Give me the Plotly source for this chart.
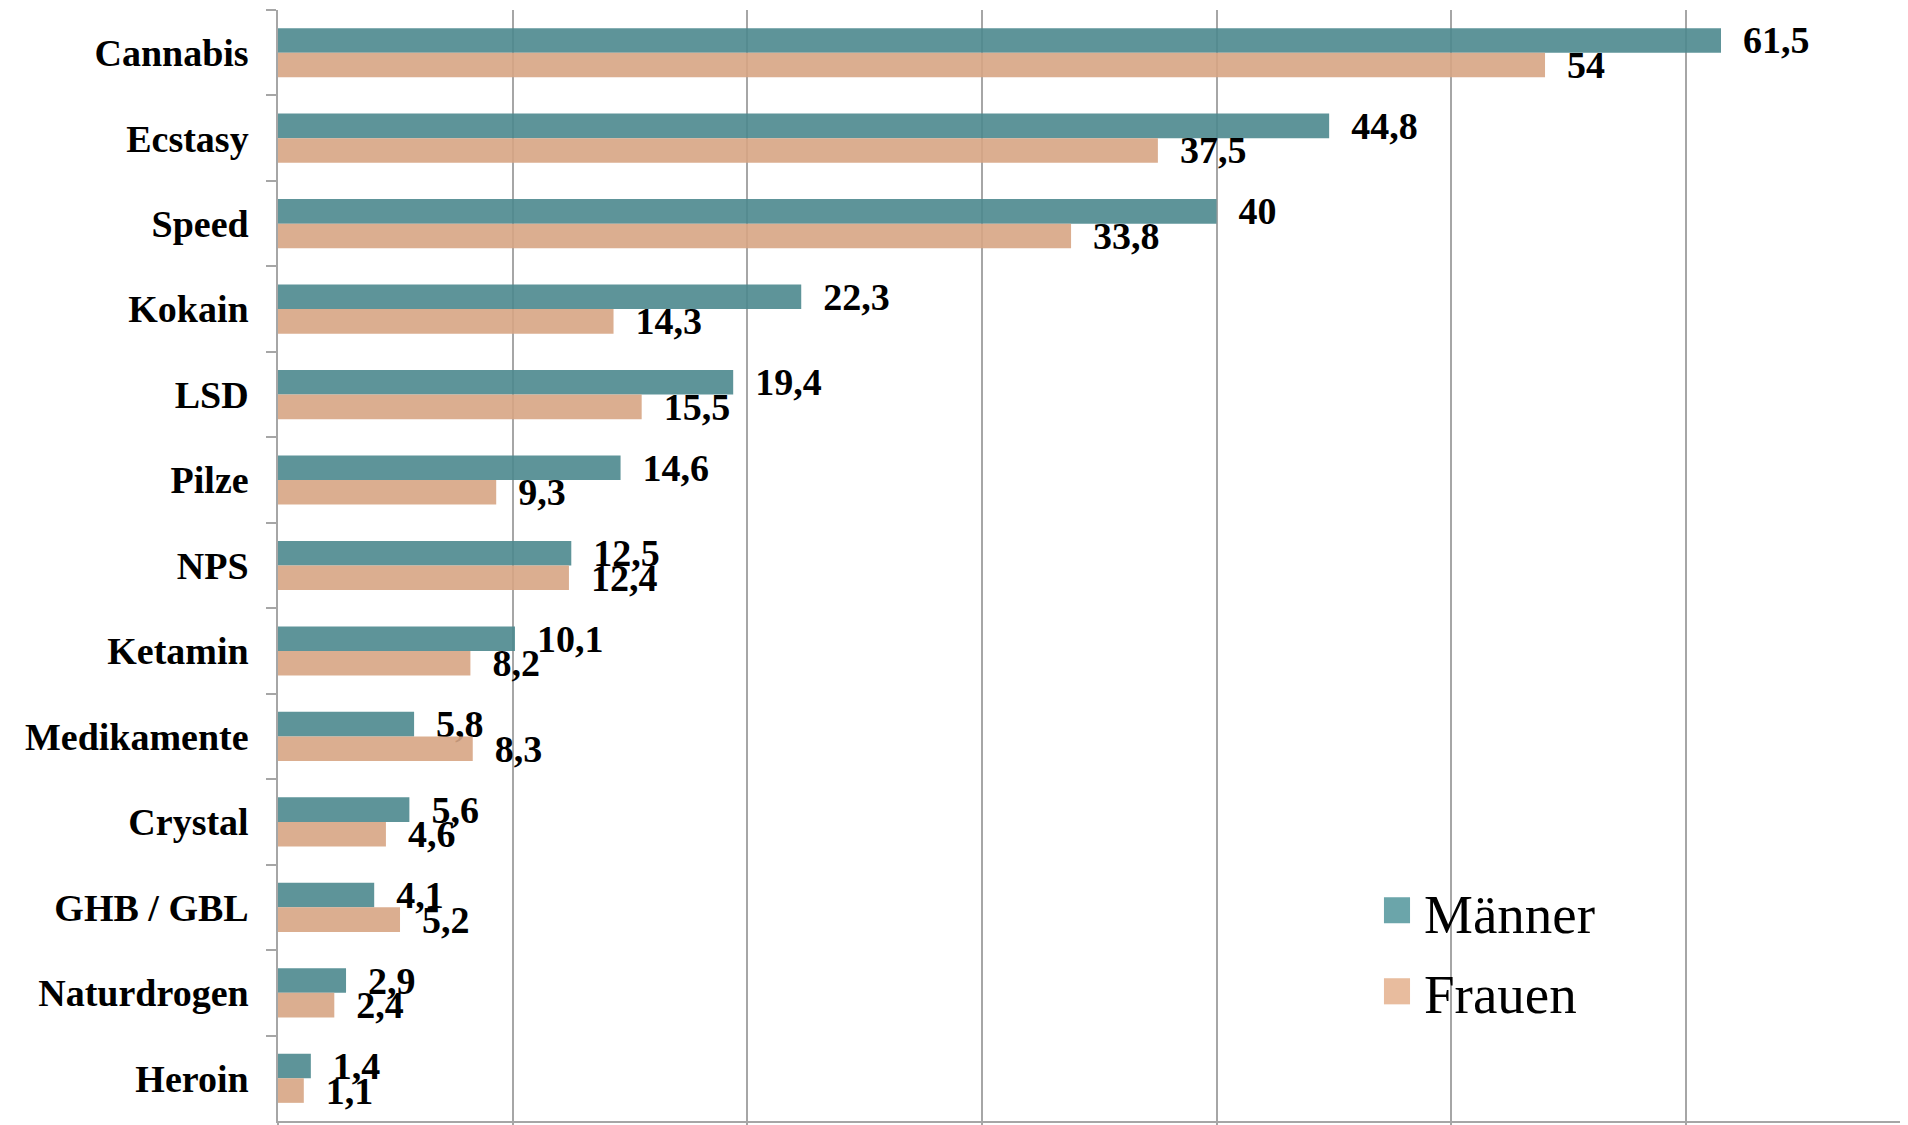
import plotly.graph_objects as go

categories = ["Cannabis", "Ecstasy", "Speed", "Kokain", "LSD", "Pilze", "NPS",
              "Ketamin", "Medikamente", "Crystal", "GHB / GBL", "Naturdrogen", "Heroin"]
maenner = [61.5, 44.8, 40, 22.3, 19.4, 14.6, 12.5, 10.1, 5.8, 5.6, 4.1, 2.9, 1.4]
frauen = [54, 37.5, 33.8, 14.3, 15.5, 9.3, 12.4, 8.2, 8.3, 4.6, 5.2, 2.4, 1.1]
series_names = ["Männer", "Frauen"]

def fmt(v):
    return f"{v:g}".replace(".", ",")

bar_colors = ["#4D888E", "#D7A584"]
legend_colors = ["#6BA5AA", "#E8BC9E"]
serif = "Georgia, 'Liberation Serif', 'DejaVu Serif', serif"

fig = go.Figure()
for name, vals, col in zip(series_names, [maenner, frauen], bar_colors):
    fig.add_trace(go.Bar(
        y=categories, x=vals, name=name, orientation="h",
        marker=dict(color=col, opacity=0.9, line=dict(width=0)),
        text=[fmt(v) for v in vals],
        texttemplate="\u00a0\u00a0%{text}",
        textposition="outside", cliponaxis=False, constraintext="none",
        textfont=dict(family=serif, size=38, color="#000000", weight="bold"),
        hoverinfo="skip", showlegend=False,
    ))

# page body has an 8px default margin, so the figure is sized/offset to compensate
fig.update_layout(
    width=1900, height=1117,
    margin=dict(l=270, r=0, t=2, b=4, autoexpand=False),
    paper_bgcolor="white", plot_bgcolor="white",
    barmode="group", bargap=0.425, bargroupgap=0,
    showlegend=False,
    font=dict(family=serif),
)
fig.update_xaxes(
    range=[0, 69.47], dtick=10, tick0=0, automargin=False,
    showgrid=True, gridcolor="#A6A6A6", gridwidth=1.5,
    zeroline=False, showticklabels=False,
    showline=True, linecolor="#A6A6A6", linewidth=1.5,
    ticks="outside", ticklen=5, tickcolor="#A6A6A6", tickwidth=1.5,
)
fig.update_yaxes(
    autorange="reversed", categoryorder="array", categoryarray=categories,
    automargin=False,
    showline=True, linecolor="#A6A6A6", linewidth=1.5,
    ticks="outside", tickson="boundaries", ticklen=10, tickcolor="#A6A6A6", tickwidth=1.5,
    showgrid=False, ticklabelstandoff=20,
    tickfont=dict(family=serif, size=38, color="#000000", weight="bold"),
)

# Legend drawn manually (square swatches + real text)
legend_pos = [(0.2014, 0.178, 0.1857), (0.1285, 0.105, 0.1141)]
for name, col, (y1, y0, ty) in zip(series_names, legend_colors, legend_pos):
    fig.add_shape(type="rect", xref="paper", yref="paper",
                  x0=0.6785, x1=0.6945, y0=y0, y1=y1,
                  fillcolor=col, line=dict(width=0))
    fig.add_annotation(xref="paper", yref="paper", x=0.7018, y=ty,
                       xanchor="left", yanchor="middle", showarrow=False,
                       text=name,
                       font=dict(family=serif, size=55, color="#000000"))

fig.write_html("out.html")
